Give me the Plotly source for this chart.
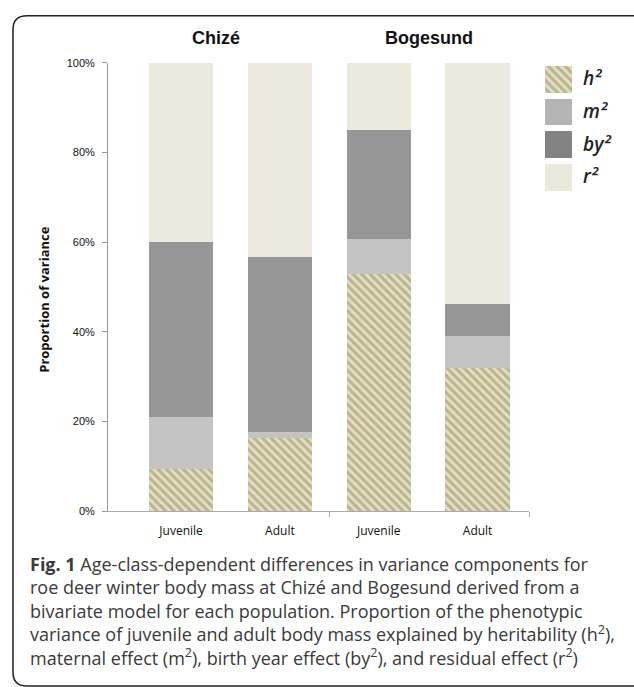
import plotly.graph_objects as go

# ---------------- data ----------------
sites = ["Chizé", "Bogesund"]
age_classes = ["Juvenile", "Adult", "Juvenile", "Adult"]
components = ["h²", "m²", "by²", "r²"]
h2 = [9.4, 16.2, 53.0, 31.9]
m2 = [11.7, 1.5, 7.8, 7.1]
by2 = [39.0, 38.9, 24.3, 7.3]
r2 = [39.9, 43.4, 14.9, 53.7]
y_ticks = [0, 20, 40, 60, 80, 100]
y_title = "Proportion of variance"
caption_lines = [
    "<b>Fig. 1</b> Age-class-dependent differences in variance components for",
    "roe deer winter body mass at Chizé and Bogesund derived from a",
    "bivariate model for each population. Proportion of the phenotypic",
    "variance of juvenile and adult body mass explained by heritability (h<sup>2</sup>),",
    "maternal effect (m<sup>2</sup>), birth year effect (by<sup>2</sup>), and residual effect (r<sup>2</sup>)",
]

# ---------------- styling ----------------
W, H = 634, 687
def X(px):
    return px / W
def Y(py):
    return 1 - py / H

bar_colors = ["#e2dec4", "#c4c4c4", "#969696", "#ece9df"]
legend_colors = ["#e2dec4", "#b4b4b4", "#828282", "#ebe8dd"]
hatch_fg = "#938852"

series = [h2, m2, by2, r2]
idx = list(range(len(age_classes)))

fig = go.Figure()

def marker_for(i, colors):
    m = dict(color=colors[i], line=dict(width=0))
    if i == 0:
        m["pattern"] = dict(shape="\\", fillmode="overlay", bgcolor=colors[i],
                            fgcolor=hatch_fg, size=6, solidity=0.5)
    return m

for i, (name, vals) in enumerate(zip(components, series)):
    fig.add_trace(go.Bar(x=idx, y=vals, width=0.65, name=name,
                         marker=marker_for(i, bar_colors), showlegend=False,
                         xaxis="x", yaxis="y", hoverinfo="skip"))

# legend swatches as a small subplot
for i, name in enumerate(components):
    fig.add_trace(go.Bar(x=[1], y=[name], orientation="h", width=0.81,
                         marker=marker_for(i, legend_colors), showlegend=False,
                         xaxis="x2", yaxis="y2", hoverinfo="skip"))

annotations = []
for site, cx in zip(sites, [216, 429]):
    annotations.append(dict(text=site, x=X(cx), y=Y(33), xref="paper", yref="paper",
                            showarrow=False, xanchor="center", yanchor="middle",
                            font=dict(family="Liberation Sans", size=18, color="#111", weight="bold")))
annotations.append(dict(text=y_title, x=X(44), y=Y(299), xref="paper", yref="paper",
                        showarrow=False, textangle=-90, xanchor="center", yanchor="middle",
                        font=dict(family="Open Sans", size=13, color="#111", weight="bold")))
for name, cy in zip(components, [73, 107, 140.5, 173]):
    annotations.append(dict(text=name, x=X(581), y=Y(cy), xref="paper", yref="paper",
                            showarrow=False, xanchor="left", yanchor="middle",
                            font=dict(family="Open Sans", size=19, color="#222",
                                      style="italic", weight=600)))
annotations.append(dict(text="<br>".join(caption_lines), x=X(28), y=Y(616),
                        xref="paper", yref="paper", showarrow=False,
                        xanchor="left", yanchor="middle", align="left",
                        font=dict(family="Open Sans", size=18, color="#3a3a3a")))

def P(px, py):
    return f"{X(px):.5f},{Y(py):.5f}"

border = ("M " + P(640, 10) + " L " + P(27, 10) + " Q " + P(13, 10) + " " + P(13, 24)
          + " L " + P(13, 678) + " Q " + P(13, 692) + " " + P(27, 692) + " L " + P(640, 692))

fig.update_layout(
    width=W, height=H,
    margin=dict(l=0, r=0, t=0, b=0),
    paper_bgcolor="white", plot_bgcolor="white",
    barmode="stack", bargap=0,
    showlegend=False,
    xaxis=dict(domain=[X(108), X(529)], range=[-0.739, 3.52],
               tickmode="array", tickvals=idx, ticktext=age_classes, ticks="",
               showline=True, linecolor="#aaaaaa", linewidth=1,
               showgrid=False, zeroline=False, ticklabelstandoff=9,
               tickfont=dict(family="Open Sans", size=12, color="#111"),
               minor=dict(tickmode="array", tickvals=[1.5, 3.52], ticks="outside",
                          ticklen=5, tickcolor="#aaaaaa", tickwidth=1, showgrid=False)),
    yaxis=dict(domain=[Y(514), Y(58)], range=[0, 100],
               tickmode="array", tickvals=y_ticks, ticktext=[f"{v}%" for v in y_ticks],
               ticks="outside", ticklen=5, tickcolor="#999999", tickwidth=1,
               showline=True, linecolor="#999999", linewidth=1,
               showgrid=False, zeroline=False, ticklabelstandoff=5,
               tickfont=dict(family="Liberation Sans", size=11, color="#111")),
    xaxis2=dict(domain=[X(545), X(572)], range=[0, 1], visible=False, anchor="y2"),
    yaxis2=dict(domain=[Y(191), Y(58)], type="category", categoryarray=components,
                categoryorder="array", range=[3.5, -0.5], visible=False, anchor="x2"),
    annotations=annotations,
    shapes=[dict(type="path", path=border, xref="paper", yref="paper",
                 line=dict(color="#222", width=1.5))],
)

fig.write_html("out.html", config={"displayModeBar": False},
               post_script="document.body.style.margin='0';document.body.style.overflow='hidden';")
